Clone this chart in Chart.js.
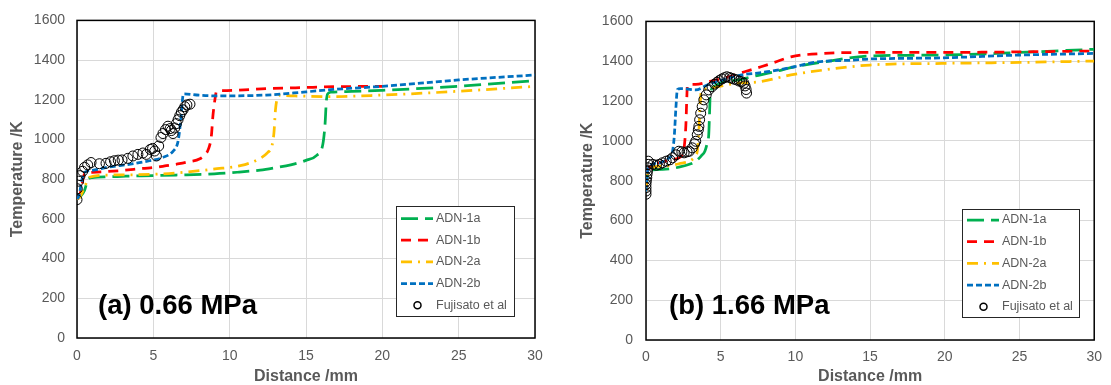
<!DOCTYPE html>
<html><head><meta charset="utf-8">
<script src="https://cdn.jsdelivr.net/npm/chart.js@4.4.0/dist/chart.umd.min.js"></script>
<style>
html,body{margin:0;padding:0;background:#fff;width:1111px;height:385px;overflow:hidden}
.wrap{position:absolute;top:0;height:385px}
#wa{left:0;width:556px}
#wb{left:556px;width:555px}
canvas{display:block}
</style></head><body>
<div class="wrap" id="wa"><canvas id="ca" width="556" height="385"></canvas></div>
<div class="wrap" id="wb"><canvas id="cb" width="555" height="385"></canvas></div>
<script>
// ---------- shared labels ----------
const seriesNames = ['ADN-1a', 'ADN-1b', 'ADN-2a', 'ADN-2b', 'Fujisato et al'];
const xTicks = [0, 5, 10, 15, 20, 25, 30];
const yTicks = [0, 200, 400, 600, 800, 1000, 1200, 1400, 1600];
const xTitle = 'Distance /mm';
const yTitle = 'Temperature /K';
const panelLabels = ['(a) 0.66 MPa', '(b) 1.66 MPa'];

// ---------- panel (a) 0.66 MPa ----------
const a_1a_x = [0, 0.2, 0.5, 0.7, 1, 2, 3.2, 5, 6.5, 9, 10.5, 12, 13, 14, 15, 15.7, 16.1, 16.25, 16.33, 16.42, 16.6, 18, 20, 25, 30];
const a_1a_y = [700, 712, 745, 795, 808, 812, 815, 818, 821, 827, 835, 846, 858, 872, 895, 920, 975, 1080, 1190, 1230, 1238, 1242, 1248, 1268, 1297];
const a_1b_x = [0, 0.15, 0.3, 0.48, 1, 2.8, 4.3, 5.2, 5.85, 6.7, 7.2, 8.05, 8.4, 8.6, 8.8, 8.9, 9.03, 9.14, 9.5, 10.5, 12.4, 15, 17, 20];
const a_1b_y = [700, 710, 760, 826, 835, 843, 854, 860, 868, 878, 886, 903, 925, 950, 1017, 1116, 1199, 1243, 1246, 1248, 1256, 1262, 1266, 1268];
const a_2a_x = [0, 0.2, 0.5, 0.8, 2.1, 5.4, 8.05, 8.9, 10.7, 12, 12.5, 12.76, 12.9, 13.0, 13.13, 13.25, 14, 16.8, 20, 25, 30];
const a_2a_y = [700, 712, 760, 810, 821, 826, 843, 851, 868, 905, 935, 965, 1033, 1149, 1212, 1222, 1220, 1216, 1224, 1243, 1268];
const a_2b_x = [0, 0.15, 0.3, 0.5, 1, 2, 3.5, 4.75, 5.6, 6.3, 6.6, 6.73, 6.84, 6.92, 7.0, 8, 9.1, 12.4, 15, 16.8, 20, 25, 30];
const a_2b_y = [700, 720, 790, 835, 845, 860, 876, 893, 909, 942, 984, 1050, 1133, 1210, 1230, 1223, 1220, 1224, 1240, 1252, 1268, 1300, 1325];
const a_exp_x = [0.0, 0.02, 0.1, 0.2, 0.37, 0.5, 0.7, 0.92, 1.47, 1.9, 2.2, 2.45, 2.7, 2.95, 3.33, 3.66, 3.99, 4.32, 4.54, 4.8, 4.95, 5.09, 5.2, 5.35, 5.5, 5.63, 5.8, 5.96, 6.1, 6.18, 6.29, 6.4, 6.51, 6.62, 6.73, 6.84, 6.95, 7.06, 7.2, 7.4];
const a_exp_y = [697, 752, 790, 818, 840, 860, 872, 884, 878, 880, 888, 893, 896, 897, 905, 917, 925, 932, 925, 950, 955, 942, 917, 967, 1010, 1030, 1050, 1067, 1055, 1045, 1030, 1058, 1080, 1100, 1120, 1138, 1150, 1165, 1174, 1178];

// ---------- panel (b) 1.66 MPa ----------
const b_1a_x = [0, 0.05, 0.13, 1.12, 2.2, 3.0, 3.33, 3.7, 3.94, 4.1, 4.2, 4.25, 4.3, 4.53, 5.1, 6.2, 7.06, 8.6, 9.93, 11.9, 15, 19.8, 25, 30];
const b_1a_y = [750, 795, 848, 857, 868, 885, 898, 925, 948, 990, 1031, 1131, 1231, 1272, 1294, 1306, 1322, 1347, 1372, 1397, 1426, 1431, 1444, 1460];
const b_1b_x = [0, 0.05, 0.13, 0.9, 1.6, 2.2, 2.45, 2.55, 2.67, 2.73, 2.77, 3.0, 3.33, 4.2, 5.3, 6.6, 7.7, 8.6, 9.7, 11.9, 15, 19.8, 25, 30];
const b_1b_y = [745, 800, 855, 890, 905, 915, 935, 965, 1081, 1214, 1278, 1284, 1284, 1297, 1317, 1347, 1372, 1394, 1422, 1439, 1444, 1444, 1447, 1451];
const b_2a_x = [0, 0.05, 0.13, 1.12, 2.2, 3.1, 3.35, 3.43, 3.54, 3.61, 3.7, 3.99, 4.86, 5.97, 7.6, 9.7, 11.9, 15, 19.8, 25, 30];
const b_2a_y = [745, 800, 855, 873, 885, 907, 930, 948, 1048, 1164, 1248, 1261, 1272, 1289, 1297, 1331, 1356, 1381, 1389, 1394, 1401];
const b_2b_x = [0, 0.05, 0.13, 0.9, 1.5, 1.68, 1.78, 1.9, 2.0, 2.1, 2.3, 2.67, 3.33, 4.1, 5.1, 6.4, 7.6, 8.4, 9.9, 11.5, 13.7, 15, 19.8, 25, 30];
const b_2b_y = [745, 800, 860, 890, 912, 923, 948, 1031, 1164, 1258, 1262, 1261, 1256, 1281, 1306, 1331, 1342, 1350, 1372, 1397, 1405, 1411, 1417, 1431, 1439];
const b_exp_x = [0, 0, 0, 0, 0.02, 0.05, 0.07, 0.1, 0.13, 0.15, 0.15, 0.46, 0.7, 0.9, 1.1, 1.35, 1.6, 1.78, 2.0, 2.2, 2.4, 2.55, 2.75, 2.9, 3.1, 3.25, 3.33, 3.43, 3.5, 3.54, 3.59, 3.66, 3.76, 3.87, 4.03, 4.2, 4.42, 4.6, 4.75, 4.9, 5.08, 5.25, 5.41, 5.6, 5.74, 5.9, 6.07, 6.25, 6.4, 6.55, 6.63, 6.7, 6.73];
const b_exp_y = [732, 748, 765, 782, 798, 815, 832, 848, 865, 882, 898, 882, 878, 882, 890, 898, 905, 915, 930, 948, 945, 940, 945, 948, 965, 985, 998, 1031, 1055, 1073, 1106, 1139, 1173, 1206, 1231, 1256, 1272, 1285, 1294, 1303, 1311, 1317, 1322, 1318, 1314, 1310, 1306, 1300, 1297, 1290, 1276, 1258, 1240];

// ---------- styling ----------
const FONT = '"Liberation Sans", Arial, sans-serif';
const GREY = '#595959';
const styles = [
  {color: '#00B050', dash: [17, 7]},
  {color: '#FF0000', dash: [10, 7]},
  {color: '#FFC000', dash: [11, 6, 2, 6]},
  {color: '#0070C0', dash: [6, 3]}
];

function pts(xs, ys) { return xs.map((x, i) => ({x: x, y: ys[i]})); }

function buildDatasets(lines, exp) {
  const ds = lines.map((l, i) => ({
    label: seriesNames[i],
    data: pts(l[0], l[1]),
    showLine: true,
    borderColor: styles[i].color,
    backgroundColor: styles[i].color,
    borderWidth: 2.75,
    borderDash: styles[i].dash,
    borderCapStyle: 'butt',
    pointRadius: 0,
    cubicInterpolationMode: 'monotone',
    order: 5 - i
  }));
  ds.push({
    label: seriesNames[4],
    data: pts(exp[0], exp[1]),
    showLine: false,
    pointRadius: 5,
    pointStyle: 'circle',
    borderColor: '#000',
    backgroundColor: 'rgba(0,0,0,0)',
    borderWidth: 1,
    order: 0
  });
  return ds;
}

const decor = {
  id: 'decor',
  beforeDatasetsDraw(chart) {
    const {ctx, chartArea: a} = chart;
    ctx.save();
    ctx.strokeStyle = '#000';
    ctx.lineWidth = 1.5;
    ctx.strokeRect(a.left, a.top, a.right - a.left, a.bottom - a.top);
    ctx.restore();
  },
  afterDatasetsDraw(chart) {
    const o = chart.options.plugins.decor;
    const ctx = chart.ctx;
    ctx.save();
    // panel label
    ctx.fillStyle = '#000';
    ctx.font = 'bold 27.5px ' + FONT;
    ctx.textBaseline = 'alphabetic';
    ctx.textAlign = 'left';
    ctx.fillText(o.label, o.labelX, o.labelY);
    // legend
    const b = o.box;
    ctx.fillStyle = '#fff';
    ctx.fillRect(b.x, b.y, b.w, b.h);
    ctx.strokeStyle = '#262626';
    ctx.lineWidth = 1;
    ctx.strokeRect(b.x + 0.5, b.y + 0.5, b.w, b.h);
    ctx.font = '12.5px ' + FONT;
    ctx.textBaseline = 'middle';
    chart.data.datasets.forEach((d, i) => {
      const y = b.row0 + i * b.step;
      if (d.showLine) {
        ctx.save();
        ctx.strokeStyle = d.borderColor;
        ctx.lineWidth = d.borderWidth;
        ctx.setLineDash(d.borderDash);
        ctx.beginPath();
        ctx.moveTo(b.x + 5, y);
        ctx.lineTo(b.x + 37, y);
        ctx.stroke();
        ctx.restore();
      } else {
        ctx.beginPath();
        ctx.strokeStyle = '#000';
        ctx.lineWidth = 1.5;
        ctx.arc(b.x + 21.5, y, 3.5, 0, Math.PI * 2);
        ctx.stroke();
      }
      ctx.fillStyle = GREY;
      ctx.fillText(d.label, b.x + 40, y);
    });
    ctx.restore();
  }
};

function makeChart(id, datasets, c) {
  return new Chart(document.getElementById(id), {
    type: 'scatter',
    data: {datasets: datasets},
    plugins: [decor],
    options: {
      responsive: false,
      animation: false,
      devicePixelRatio: 1,
      layout: {padding: {top: c.top, right: c.right, bottom: 0, left: 0}},
      plugins: {
        legend: {display: false},
        tooltip: {enabled: false},
        decor: c.decor
      },
      scales: {
        x: {
          type: 'linear', min: xTicks[0], max: xTicks[xTicks.length - 1],
          afterBuildTicks(s) { s.ticks = xTicks.map(v => ({value: v})); },
          ticks: {color: GREY, font: {family: FONT, size: 14}, padding: c.xTickPad, maxRotation: 0, callback: v => String(v)},
          grid: {color: '#d9d9d9', lineWidth: 1, drawTicks: false},
          border: {display: false},
          title: {display: true, text: xTitle, color: GREY, font: {family: FONT, size: 16, weight: 'bold', lineHeight: 1}, padding: {top: 0, bottom: 0}},
          afterFit(s) { s.height = c.xH; }
        },
        y: {
          type: 'linear', min: yTicks[0], max: yTicks[yTicks.length - 1],
          afterBuildTicks(s) { s.ticks = yTicks.map(v => ({value: v})); },
          ticks: {color: GREY, font: {family: FONT, size: 14}, padding: c.yTickPad, callback: v => String(v)},
          grid: {color: '#d9d9d9', lineWidth: 1, drawTicks: false},
          border: {display: false},
          title: {display: true, text: yTitle, color: GREY, font: {family: FONT, size: 16, weight: 'bold', lineHeight: 1}, padding: {top: c.yTitlePad, bottom: 0}},
          afterFit(s) { s.width = c.yW; }
        }
      }
    }
  });
}

makeChart('ca',
  buildDatasets([[a_1a_x, a_1a_y], [a_1b_x, a_1b_y], [a_2a_x, a_2a_y], [a_2b_x, a_2b_y]], [a_exp_x, a_exp_y]),
  {top: 16, right: 21, xH: 47, yW: 77, xTickPad: 10, yTickPad: 12, yTitlePad: 10,
   decor: {label: panelLabels[0], labelX: 98, labelY: 314,
           box: {x: 396, y: 206, w: 118, h: 110, row0: 218.5, step: 21.7}}});

makeChart('cb',
  buildDatasets([[b_1a_x, b_1a_y], [b_1b_x, b_1b_y], [b_2a_x, b_2a_y], [b_2b_x, b_2b_y]], [b_exp_x, b_exp_y]),
  {top: 19, right: 11, xH: 45, yW: 90, xTickPad: 9, yTickPad: 13, yTitlePad: 24,
   decor: {label: panelLabels[1], labelX: 113, labelY: 314,
           box: {x: 406, y: 209, w: 117, h: 108, row0: 220, step: 21.7}}});
</script>
</body></html>
